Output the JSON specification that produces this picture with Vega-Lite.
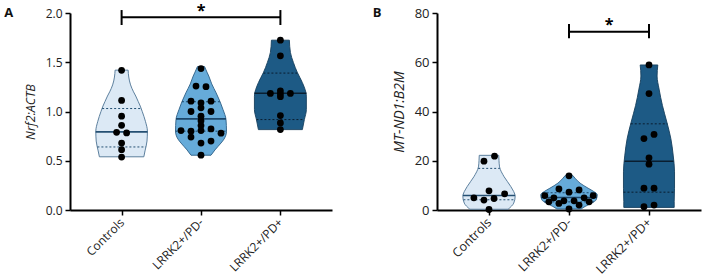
{
  "$schema": "https://vega.github.io/schema/vega-lite/v6.json",
  "background": "white",
  "padding": {"left": 4, "top": 3, "right": 4, "bottom": 0},
  "config": {
    "font": "Open Sans",
    "view": {"stroke": null},
    "axis": {"grid": false, "domainColor": "black", "domainWidth": 2, "tickColor": "black", "tickWidth": 1.5, "tickSize": 5, "labelColor": "#222", "titleColor": "#222", "titleFontWeight": "normal", "titleFontStyle": "italic", "labelFont": "Open Sans", "titleFont": "Open Sans"}
  },
  "datasets": {
    "violA": [
      {"group":"Controls","gi":0,"v":1.42,"w":0.082},{"group":"Controls","gi":0,"v":1.35,"w":0.09},{"group":"Controls","gi":0,"v":1.27,"w":0.113},{"group":"Controls","gi":0,"v":1.2,"w":0.15},{"group":"Controls","gi":0,"v":1.157,"w":0.178},{"group":"Controls","gi":0,"v":1.1,"w":0.21},{"group":"Controls","gi":0,"v":1.055,"w":0.235},{"group":"Controls","gi":0,"v":1.0,"w":0.26},{"group":"Controls","gi":0,"v":0.9,"w":0.3},{"group":"Controls","gi":0,"v":0.8,"w":0.325},{"group":"Controls","gi":0,"v":0.7,"w":0.32},{"group":"Controls","gi":0,"v":0.6,"w":0.295},{"group":"Controls","gi":0,"v":0.54,"w":0.28},
      {"group":"LRRK2+/PD-","gi":1,"v":1.456,"w":0.045},{"group":"LRRK2+/PD-","gi":1,"v":1.4,"w":0.075},{"group":"LRRK2+/PD-","gi":1,"v":1.36,"w":0.098},{"group":"LRRK2+/PD-","gi":1,"v":1.28,"w":0.135},{"group":"LRRK2+/PD-","gi":1,"v":1.19,"w":0.19},{"group":"LRRK2+/PD-","gi":1,"v":1.1,"w":0.24},{"group":"LRRK2+/PD-","gi":1,"v":1.02,"w":0.277},{"group":"LRRK2+/PD-","gi":1,"v":0.918,"w":0.315},{"group":"LRRK2+/PD-","gi":1,"v":0.8,"w":0.321},{"group":"LRRK2+/PD-","gi":1,"v":0.72,"w":0.29},{"group":"LRRK2+/PD-","gi":1,"v":0.68,"w":0.252},{"group":"LRRK2+/PD-","gi":1,"v":0.61,"w":0.176},{"group":"LRRK2+/PD-","gi":1,"v":0.556,"w":0.126},
      {"group":"LRRK2+/PD+","gi":2,"v":1.724,"w":0.113},{"group":"LRRK2+/PD+","gi":2,"v":1.6,"w":0.126},{"group":"LRRK2+/PD+","gi":2,"v":1.497,"w":0.164},{"group":"LRRK2+/PD+","gi":2,"v":1.395,"w":0.214},{"group":"LRRK2+/PD+","gi":2,"v":1.293,"w":0.277},{"group":"LRRK2+/PD+","gi":2,"v":1.156,"w":0.327},{"group":"LRRK2+/PD+","gi":2,"v":1.02,"w":0.327},{"group":"LRRK2+/PD+","gi":2,"v":0.918,"w":0.302},{"group":"LRRK2+/PD+","gi":2,"v":0.816,"w":0.277}
    ],
    "linesA": [
      {"group":"Controls","gi":0,"type":"median","v":0.793,"w":0.327},{"group":"Controls","gi":0,"type":"quartile","v":1.03,"w":0.245},{"group":"Controls","gi":0,"type":"quartile","v":0.64,"w":0.305},
      {"group":"LRRK2+/PD-","gi":1,"type":"median","v":0.925,"w":0.315},{"group":"LRRK2+/PD-","gi":1,"type":"quartile","v":1.099,"w":0.24},{"group":"LRRK2+/PD-","gi":1,"type":"quartile","v":0.8,"w":0.321},
      {"group":"LRRK2+/PD+","gi":2,"type":"median","v":1.185,"w":0.327},{"group":"LRRK2+/PD+","gi":2,"type":"quartile","v":1.39,"w":0.214},{"group":"LRRK2+/PD+","gi":2,"type":"quartile","v":0.918,"w":0.302}
    ],
    "ptsA": [
      {"group":"Controls","gi":0,"v":1.418,"col":0},{"group":"Controls","gi":0,"v":1.112,"col":0},{"group":"Controls","gi":0,"v":0.952,"col":0},{"group":"Controls","gi":0,"v":0.86,"col":0},{"group":"Controls","gi":0,"v":0.789,"col":-0.5},{"group":"Controls","gi":0,"v":0.782,"col":0.5},{"group":"Controls","gi":0,"v":0.68,"col":0},{"group":"Controls","gi":0,"v":0.612,"col":0},{"group":"Controls","gi":0,"v":0.537,"col":0},
      {"group":"LRRK2+/PD-","gi":1,"v":1.436,"col":0},{"group":"LRRK2+/PD-","gi":1,"v":1.258,"col":-0.5},{"group":"LRRK2+/PD-","gi":1,"v":1.252,"col":0.5},{"group":"LRRK2+/PD-","gi":1,"v":1.105,"col":-1},{"group":"LRRK2+/PD-","gi":1,"v":1.105,"col":1},{"group":"LRRK2+/PD-","gi":1,"v":1.088,"col":0},{"group":"LRRK2+/PD-","gi":1,"v":1.037,"col":0},{"group":"LRRK2+/PD-","gi":1,"v":1.0,"col":-1},{"group":"LRRK2+/PD-","gi":1,"v":1.0,"col":1},{"group":"LRRK2+/PD-","gi":1,"v":0.952,"col":0},{"group":"LRRK2+/PD-","gi":1,"v":0.905,"col":0},{"group":"LRRK2+/PD-","gi":1,"v":0.857,"col":0},{"group":"LRRK2+/PD-","gi":1,"v":0.823,"col":1},{"group":"LRRK2+/PD-","gi":1,"v":0.806,"col":-2},{"group":"LRRK2+/PD-","gi":1,"v":0.8,"col":-1},{"group":"LRRK2+/PD-","gi":1,"v":0.806,"col":0},{"group":"LRRK2+/PD-","gi":1,"v":0.78,"col":2},{"group":"LRRK2+/PD-","gi":1,"v":0.74,"col":-1},{"group":"LRRK2+/PD-","gi":1,"v":0.7,"col":1},{"group":"LRRK2+/PD-","gi":1,"v":0.68,"col":0},{"group":"LRRK2+/PD-","gi":1,"v":0.557,"col":0},
      {"group":"LRRK2+/PD+","gi":2,"v":1.724,"col":0},{"group":"LRRK2+/PD+","gi":2,"v":1.565,"col":0},{"group":"LRRK2+/PD+","gi":2,"v":1.184,"col":-1},{"group":"LRRK2+/PD+","gi":2,"v":1.184,"col":1},{"group":"LRRK2+/PD+","gi":2,"v":1.21,"col":0},{"group":"LRRK2+/PD+","gi":2,"v":1.18,"col":0},{"group":"LRRK2+/PD+","gi":2,"v":1.15,"col":0},{"group":"LRRK2+/PD+","gi":2,"v":0.959,"col":0},{"group":"LRRK2+/PD+","gi":2,"v":0.884,"col":0},{"group":"LRRK2+/PD+","gi":2,"v":0.816,"col":0}
    ],
    "sigA": [
      {"x":0,"x2":2,"y":1.956,"y2":1.956},{"x":0,"x2":0,"y":1.878,"y2":2.03},{"x":2,"x2":2,"y":1.878,"y2":2.03}
    ],
    "starA": [{"x":1,"y":2.1,"label":"*"}],
    "violB": [
      {"group":"Controls","gi":0,"v":22.2,"w":0.122},{"group":"Controls","gi":0,"v":20,"w":0.125},{"group":"Controls","gi":0,"v":17.5,"w":0.132},{"group":"Controls","gi":0,"v":13.5,"w":0.189},{"group":"Controls","gi":0,"v":9.5,"w":0.273},{"group":"Controls","gi":0,"v":5.5,"w":0.327},{"group":"Controls","gi":0,"v":2.8,"w":0.309},{"group":"Controls","gi":0,"v":0.3,"w":0.239},
      {"group":"LRRK2+/PD-","gi":1,"v":14.1,"w":0.044},{"group":"LRRK2+/PD-","gi":1,"v":12.9,"w":0.076},{"group":"LRRK2+/PD-","gi":1,"v":10.9,"w":0.139},{"group":"LRRK2+/PD-","gi":1,"v":8.85,"w":0.239},{"group":"LRRK2+/PD-","gi":1,"v":7.5,"w":0.309},{"group":"LRRK2+/PD-","gi":1,"v":6.2,"w":0.353},{"group":"LRRK2+/PD-","gi":1,"v":4.15,"w":0.34},{"group":"LRRK2+/PD-","gi":1,"v":2.8,"w":0.283},{"group":"LRRK2+/PD-","gi":1,"v":1.45,"w":0.202},{"group":"LRRK2+/PD-","gi":1,"v":0.4,"w":0.151},
      {"group":"LRRK2+/PD+","gi":2,"v":58.9,"w":0.11},{"group":"LRRK2+/PD+","gi":2,"v":54.4,"w":0.101},{"group":"LRRK2+/PD+","gi":2,"v":49.1,"w":0.126},{"group":"LRRK2+/PD+","gi":2,"v":42.4,"w":0.168},{"group":"LRRK2+/PD+","gi":2,"v":35.7,"w":0.223},{"group":"LRRK2+/PD+","gi":2,"v":29,"w":0.273},{"group":"LRRK2+/PD+","gi":2,"v":22.3,"w":0.302},{"group":"LRRK2+/PD+","gi":2,"v":15.5,"w":0.319},{"group":"LRRK2+/PD+","gi":2,"v":8.85,"w":0.319},{"group":"LRRK2+/PD+","gi":2,"v":3.5,"w":0.315},{"group":"LRRK2+/PD+","gi":2,"v":1.05,"w":0.315}
    ],
    "linesB": [
      {"group":"Controls","gi":0,"type":"median","v":5.9,"w":0.327},{"group":"Controls","gi":0,"type":"quartile","v":16.9,"w":0.135},{"group":"Controls","gi":0,"type":"quartile","v":4.15,"w":0.32},
      {"group":"LRRK2+/PD-","gi":1,"type":"median","v":5.07,"w":0.35},{"group":"LRRK2+/PD-","gi":1,"type":"quartile","v":7.0,"w":0.33},{"group":"LRRK2+/PD-","gi":1,"type":"quartile","v":3.3,"w":0.31},
      {"group":"LRRK2+/PD+","gi":2,"type":"median","v":19.8,"w":0.306},{"group":"LRRK2+/PD+","gi":2,"type":"quartile","v":35.0,"w":0.228},{"group":"LRRK2+/PD+","gi":2,"type":"quartile","v":7.24,"w":0.319}
    ],
    "ptsB": [
      {"group":"Controls","gi":0,"v":21.85,"col":0.55},{"group":"Controls","gi":0,"v":19.84,"col":-0.5},{"group":"Controls","gi":0,"v":7.77,"col":0},{"group":"Controls","gi":0,"v":6.56,"col":1.55},{"group":"Controls","gi":0,"v":4.95,"col":-1.5},{"group":"Controls","gi":0,"v":4.02,"col":-0.5},{"group":"Controls","gi":0,"v":4.67,"col":0.5},{"group":"Controls","gi":0,"v":0.2,"col":0},
      {"group":"LRRK2+/PD-","gi":1,"v":13.9,"col":0},{"group":"LRRK2+/PD-","gi":1,"v":8.57,"col":-1},{"group":"LRRK2+/PD-","gi":1,"v":8.17,"col":1},{"group":"LRRK2+/PD-","gi":1,"v":7.24,"col":0},{"group":"LRRK2+/PD-","gi":1,"v":5.88,"col":-2.4},{"group":"LRRK2+/PD-","gi":1,"v":5.88,"col":2.4},{"group":"LRRK2+/PD-","gi":1,"v":4.95,"col":-1.5},{"group":"LRRK2+/PD-","gi":1,"v":4.95,"col":1.5},{"group":"LRRK2+/PD-","gi":1,"v":3.74,"col":-0.5},{"group":"LRRK2+/PD-","gi":1,"v":3.74,"col":0.5},{"group":"LRRK2+/PD-","gi":1,"v":3.34,"col":-2},{"group":"LRRK2+/PD-","gi":1,"v":3.34,"col":2},{"group":"LRRK2+/PD-","gi":1,"v":2.66,"col":-1},{"group":"LRRK2+/PD-","gi":1,"v":2.0,"col":1},{"group":"LRRK2+/PD-","gi":1,"v":0.4,"col":0},
      {"group":"LRRK2+/PD+","gi":2,"v":58.9,"col":0},{"group":"LRRK2+/PD+","gi":2,"v":47.3,"col":0},{"group":"LRRK2+/PD+","gi":2,"v":29.0,"col":-0.5},{"group":"LRRK2+/PD+","gi":2,"v":30.7,"col":0.5},{"group":"LRRK2+/PD+","gi":2,"v":21.2,"col":0},{"group":"LRRK2+/PD+","gi":2,"v":18.6,"col":0},{"group":"LRRK2+/PD+","gi":2,"v":8.85,"col":-0.5},{"group":"LRRK2+/PD+","gi":2,"v":8.85,"col":0.5},{"group":"LRRK2+/PD+","gi":2,"v":1.33,"col":-0.5},{"group":"LRRK2+/PD+","gi":2,"v":2.0,"col":0.5}
    ],
    "sigB": [
      {"x":1,"x2":2,"y":72.4,"y2":72.4},{"x":1,"x2":1,"y":69.7,"y2":75.5},{"x":2,"x2":2,"y":69.7,"y2":75.5}
    ],
    "starB": [{"x":1.5,"y":78.5,"label":"*"}]
  },
  "hconcat": [
    {
      "width": 262,
      "height": 197,
      "title": {"text": "A", "orient": "left", "anchor": "end", "angle": 0, "frame": "group", "fontSize": 13, "fontWeight": "bold", "font": "Open Sans", "baseline": "middle", "align": "right", "offset": 2, "color": "#111"},
      "layer": [
        {
          "data": {"name": "violA"},
          "transform": [{"calculate": "datum.gi - datum.w", "as": "lo"}, {"calculate": "datum.gi + datum.w", "as": "hi"}],
          "mark": {"type": "area", "orient": "horizontal", "interpolate": "monotone", "strokeWidth": 0.9},
          "encoding": {
            "y": {"field": "v", "type": "quantitative", "scale": {"domain": [0, 2], "nice": false}, "axis": {"values": [0, 0.5, 1, 1.5, 2], "format": ".1f", "title": "Nrf2:ACTB", "labelFontSize": 12, "titleFontSize": 12.5, "labelPadding": 3, "titlePadding": 8}},
            "x": {"field": "lo", "type": "quantitative", "scale": {"domain": [-0.65, 2.65], "nice": false, "zero": false}, "axis": {"values": [0, 1, 2], "labelExpr": "['Controls','LRRK2+/PD-','LRRK2+/PD+'][datum.value]", "labelAngle": -45, "labelAlign": "right", "labelBaseline": "middle", "labelFontSize": 12, "labelPadding": 5, "title": null}},
            "x2": {"field": "hi"},
            "fill": {"field": "group", "type": "nominal", "scale": {"domain": ["Controls", "LRRK2+/PD-", "LRRK2+/PD+"], "range": ["#dce9f5", "#66abd9", "#1d5a85"]}, "legend": null},
            "stroke": {"field": "group", "type": "nominal", "scale": {"domain": ["Controls", "LRRK2+/PD-", "LRRK2+/PD+"], "range": ["#4d7393", "#2d5f86", "#163f5e"]}, "legend": null}
          }
        },
        {
          "data": {"name": "linesA"},
          "transform": [{"calculate": "datum.gi - datum.w", "as": "lo"}, {"calculate": "datum.gi + datum.w", "as": "hi"}],
          "mark": {"type": "rule"},
          "encoding": {
            "y": {"field": "v", "type": "quantitative"},
            "x": {"field": "lo", "type": "quantitative"},
            "x2": {"field": "hi"},
            "strokeDash": {"field": "type", "type": "nominal", "scale": {"domain": ["median", "quartile"], "range": [[1, 0], [2, 2]]}, "legend": null},
            "strokeWidth": {"field": "type", "type": "nominal", "scale": {"domain": ["median", "quartile"], "range": [1.6, 1]}, "legend": null},
            "color": {"field": "group", "type": "nominal", "scale": {"domain": ["Controls", "LRRK2+/PD-", "LRRK2+/PD+"], "range": ["#244f72", "#1c466a", "#0a1e30"]}, "legend": null}
          }
        },
        {
          "data": {"name": "ptsA"},
          "transform": [{"calculate": "datum.gi + datum.col * 0.126", "as": "px"}],
          "mark": {"type": "point", "filled": true, "color": "black", "opacity": 1, "size": 46},
          "encoding": {
            "y": {"field": "v", "type": "quantitative"},
            "x": {"field": "px", "type": "quantitative"}
          }
        },
        {
          "data": {"name": "sigA"},
          "mark": {"type": "rule", "color": "black", "strokeWidth": 2, "clip": false},
          "encoding": {
            "x": {"field": "x", "type": "quantitative"},
            "x2": {"field": "x2"},
            "y": {"field": "y", "type": "quantitative"},
            "y2": {"field": "y2"}
          }
        },
        {
          "data": {"name": "starA"},
          "mark": {"type": "text", "fontSize": 16, "fontWeight": "bold", "color": "black", "baseline": "top"},
          "encoding": {
            "x": {"field": "x", "type": "quantitative"},
            "y": {"field": "y", "type": "quantitative"},
            "text": {"field": "label"}
          }
        }
      ]
    },
    {
      "width": 264,
      "height": 197,
      "title": {"text": "B", "orient": "left", "anchor": "end", "angle": 0, "frame": "group", "fontSize": 13, "fontWeight": "bold", "font": "Open Sans", "baseline": "middle", "align": "right", "offset": 2, "color": "#111"},
      "layer": [
        {
          "data": {"name": "violB"},
          "transform": [{"calculate": "datum.gi - datum.w", "as": "lo"}, {"calculate": "datum.gi + datum.w", "as": "hi"}],
          "mark": {"type": "area", "orient": "horizontal", "interpolate": "monotone", "strokeWidth": 0.9},
          "encoding": {
            "y": {"field": "v", "type": "quantitative", "scale": {"domain": [0, 80], "nice": false}, "axis": {"values": [0, 20, 40, 60, 80], "title": "MT-ND1:B2M", "labelFontSize": 13, "titleFontSize": 14, "labelPadding": 3, "titlePadding": 8}},
            "x": {"field": "lo", "type": "quantitative", "scale": {"domain": [-0.65, 2.65], "nice": false, "zero": false}, "axis": {"values": [0, 1, 2], "labelExpr": "['Controls','LRRK2+/PD-','LRRK2+/PD+'][datum.value]", "labelAngle": -45, "labelAlign": "right", "labelBaseline": "middle", "labelFontSize": 12.5, "labelPadding": 5, "title": null}},
            "x2": {"field": "hi"},
            "fill": {"field": "group", "type": "nominal", "scale": {"domain": ["Controls", "LRRK2+/PD-", "LRRK2+/PD+"], "range": ["#dce9f5", "#66abd9", "#1d5a85"]}, "legend": null},
            "stroke": {"field": "group", "type": "nominal", "scale": {"domain": ["Controls", "LRRK2+/PD-", "LRRK2+/PD+"], "range": ["#4d7393", "#2d5f86", "#163f5e"]}, "legend": null}
          }
        },
        {
          "data": {"name": "linesB"},
          "transform": [{"calculate": "datum.gi - datum.w", "as": "lo"}, {"calculate": "datum.gi + datum.w", "as": "hi"}],
          "mark": {"type": "rule"},
          "encoding": {
            "y": {"field": "v", "type": "quantitative"},
            "x": {"field": "lo", "type": "quantitative"},
            "x2": {"field": "hi"},
            "strokeDash": {"field": "type", "type": "nominal", "scale": {"domain": ["median", "quartile"], "range": [[1, 0], [2, 2]]}, "legend": null},
            "strokeWidth": {"field": "type", "type": "nominal", "scale": {"domain": ["median", "quartile"], "range": [1.6, 1]}, "legend": null},
            "color": {"field": "group", "type": "nominal", "scale": {"domain": ["Controls", "LRRK2+/PD-", "LRRK2+/PD+"], "range": ["#244f72", "#1c466a", "#0a1e30"]}, "legend": null}
          }
        },
        {
          "data": {"name": "ptsB"},
          "transform": [{"calculate": "datum.gi + datum.col * 0.126", "as": "px"}],
          "mark": {"type": "point", "filled": true, "color": "black", "opacity": 1, "size": 46},
          "encoding": {
            "y": {"field": "v", "type": "quantitative"},
            "x": {"field": "px", "type": "quantitative"}
          }
        },
        {
          "data": {"name": "sigB"},
          "mark": {"type": "rule", "color": "black", "strokeWidth": 2, "clip": false},
          "encoding": {
            "x": {"field": "x", "type": "quantitative"},
            "x2": {"field": "x2"},
            "y": {"field": "y", "type": "quantitative"},
            "y2": {"field": "y2"}
          }
        },
        {
          "data": {"name": "starB"},
          "mark": {"type": "text", "fontSize": 16, "fontWeight": "bold", "color": "black", "baseline": "top"},
          "encoding": {
            "x": {"field": "x", "type": "quantitative"},
            "y": {"field": "y", "type": "quantitative"},
            "text": {"field": "label"}
          }
        }
      ]
    }
  ],
  "spacing": 40,
  "resolve": {"scale": {"y": "independent", "x": "independent"}}
}
